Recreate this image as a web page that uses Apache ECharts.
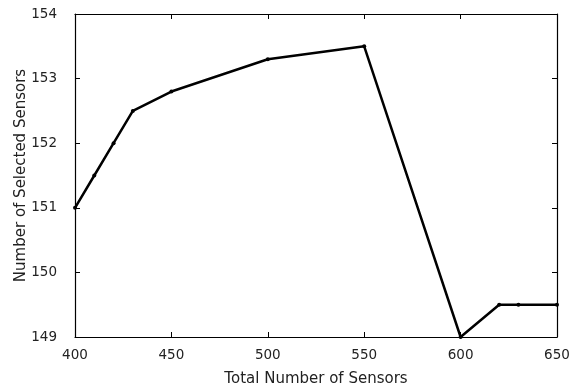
<!DOCTYPE html>
<html><head><meta charset="utf-8">
<script src="https://cdn.jsdelivr.net/npm/echarts@6/dist/echarts.min.js"></script>
<style>html,body{margin:0;padding:0;background:#fff}#c{width:581px;height:388px}</style>
</head><body><div id="c"></div>
<script>
const xValues = [400, 410, 420, 430, 450, 500, 550, 600, 620, 630, 650];
const yValues = [151, 151.5, 152, 152.5, 152.8, 153.3, 153.5, 149, 149.5, 149.5, 149.5];
const xTitle = 'Total Number of Sensors';
const yTitle = 'Number of Selected Sensors';

const font = 'DejaVu Sans, Liberation Sans, sans-serif';
const chart = echarts.init(document.getElementById('c'));
const axisLineStyle = {lineStyle: {color: '#000', width: 1.2}};
const baseX = {type: 'value', min: 400, max: 650, interval: 50, splitLine: {show: false},
  axisLine: axisLineStyle, axisTick: {inside: true, length: 5, lineStyle: {color: '#000'}}};
const baseY = {type: 'value', min: 149, max: 154, interval: 1, splitLine: {show: false},
  axisLine: axisLineStyle, axisTick: {inside: true, length: 5, lineStyle: {color: '#000'}}};
chart.setOption({
  animation: false,
  grid: {left: 75, right: 24, top: 14, bottom: 51, containLabel: false, outerBoundsMode: 'none'},
  xAxis: [
    Object.assign({}, baseX, {position: 'bottom', name: xTitle, nameLocation: 'middle', nameGap: 35,
      nameMoveOverlap: false,
      nameTextStyle: {fontFamily: font, fontSize: 15, color: '#222'},
      axisLabel: {fontFamily: font, fontSize: 13.5, color: '#222', margin: 11}}),
    Object.assign({}, baseX, {position: 'top', axisLabel: {show: false}})
  ],
  yAxis: [
    Object.assign({}, baseY, {position: 'left', name: yTitle, nameLocation: 'middle', nameGap: 46,
      nameMoveOverlap: false,
      nameTextStyle: {fontFamily: font, fontSize: 15, color: '#222'},
      axisLabel: {fontFamily: font, fontSize: 13.5, color: '#222', margin: 18}}),
    Object.assign({}, baseY, {position: 'right', axisLabel: {show: false}})
  ],
  series: [{
    type: 'line',
    data: xValues.map((x, i) => [x, yValues[i]]),
    symbol: 'circle', symbolSize: 4,
    lineStyle: {color: '#000', width: 2.5},
    itemStyle: {color: '#000'}
  }]
});
</script></body></html>
